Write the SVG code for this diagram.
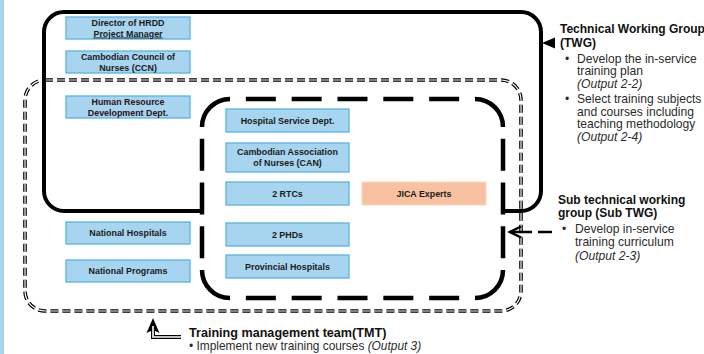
<svg xmlns="http://www.w3.org/2000/svg" width="704" height="354" viewBox="0 0 704 354">
<defs>
<style>
.box{fill:#A7D4EE;stroke:#5AB3E4;stroke-width:1.3}
.jica{fill:#F8C2A0;stroke:#FBD3BB;stroke-width:1}
.bt{font-family:"Liberation Sans",Arial,sans-serif;font-size:8.9px;font-weight:bold;fill:#1a1a1a;text-anchor:middle}
.title{font-family:"Liberation Sans",Arial,sans-serif;font-size:12px;font-weight:bold;fill:#111}
.body{font-family:"Liberation Sans",Arial,sans-serif;font-size:12.1px;fill:#2b2b2b}
.it{font-style:italic}
.solid{fill:none;stroke:#000;stroke-width:4}
.ld{fill:none;stroke:#000;stroke-width:4.5}
.dbl-o{fill:none;stroke:#000;stroke-width:3.6;stroke-dasharray:8 4}
.dbl-i{fill:none;stroke:#fff;stroke-width:1.2;stroke-dasharray:8 4}
.dl-o{fill:none;stroke:#000;stroke-width:4;stroke-linejoin:miter}
.dl-i{fill:none;stroke:#fff;stroke-width:1.6;stroke-linejoin:miter}
</style>
</defs>
<rect x="0" y="0" width="704" height="354" fill="#fff"/>
<rect x="0" y="0" width="4" height="354" fill="#A9D2EC"/>

<g id="groups">
  <g id="tmt-boundary">
    <rect class="dbl-o" x="25" y="80" width="496" height="231" rx="20"/>
    <rect class="dbl-i" x="25" y="80" width="496" height="231" rx="20"/>
  </g>
  <g id="twg-boundary">
    <path class="solid" d="M202,211 H64 A20,20 0 0 1 44,191 V32 A20,20 0 0 1 64,12 H521 A20,20 0 0 1 541,32 V191 A20,20 0 0 1 521,211 H503"/>
  </g>
  <g id="subtwg-boundary">
    <path class="ld" d="M202,127 A28,28 0 0 1 230,99 M475,99 A28,28 0 0 1 503,127 M503,270 A28,28 0 0 1 475,298 M230,298 A28,28 0 0 1 202,270"/>
    <path class="ld" d="M230,99 H475 M475,298 H230" stroke-dasharray="30 15.83" stroke-dashoffset="30"/>
    <path class="ld" d="M503,127 V270 M202,270 V127" stroke-dasharray="32 11.75" stroke-dashoffset="32"/>
  </g>
</g>

<g id="n1"><rect class="box" x="66" y="17" width="124" height="22"/><text class="bt" x="128" y="26">Director of HRDD</text><text class="bt" x="128" y="36.5" text-decoration="underline">Project Manager</text></g>
<g id="n2"><rect class="box" x="66" y="51" width="124" height="22"/><text class="bt" x="128" y="60">Cambodian Council of</text><text class="bt" x="128" y="70.5">Nurses (CCN)</text></g>
<g id="n3"><rect class="box" x="66" y="96" width="124" height="22"/><text class="bt" x="128" y="105" style="fill:#2e1016">Human Resource</text><text class="bt" x="128" y="115.5" style="fill:#2e1016">Development Dept.</text></g>
<g id="n4"><rect class="box" x="66" y="222" width="124" height="22"/><text class="bt" x="128" y="236.2">National Hospitals</text></g>
<g id="n5"><rect class="box" x="66" y="260" width="124" height="22"/><text class="bt" x="128" y="274.2">National Programs</text></g>
<g id="n6"><rect class="box" x="226" y="109" width="123" height="23"/><text class="bt" x="287.5" y="123.7">Hospital Service Dept.</text></g>
<g id="n7"><rect class="box" x="226" y="143" width="123" height="29"/><text class="bt" x="287.5" y="155">Cambodian Association</text><text class="bt" x="287.5" y="166">of Nurses (CAN)</text></g>
<g id="n8"><rect class="box" x="226" y="182" width="123" height="23"/><text class="bt" x="287.5" y="196.7">2 RTCs</text></g>
<g id="n9"><rect class="box" x="226" y="223" width="123" height="23"/><text class="bt" x="287.5" y="237.7">2 PHDs</text></g>
<g id="n10"><rect class="box" x="226" y="255" width="123" height="23"/><text class="bt" x="287.5" y="269.7">Provincial Hospitals</text></g>
<g id="jica"><rect class="jica" x="362" y="182" width="124" height="23"/><text class="bt" x="424" y="196.7">JICA Experts</text></g>

<g id="connectors">
  <polygon points="542,43 555,37.5 555,48.5" fill="#000"/>
  <path d="M510,232 H532 M538,232 H552" stroke="#000" stroke-width="2.5" fill="none"/>
  <path d="M521,226.5 L510,232 L521,237.5" stroke="#000" stroke-width="2.5" fill="none"/>
  <path d="M153,318 L159.5,333 L153,330 L146.5,333 Z" fill="#000"/>
  <path class="dl-o" d="M153,326 V337 H181"/>
  <path class="dl-i" d="M153,326 V337 H181"/>
</g>

<g id="twg-label">
  <text class="title" x="560" y="33">Technical Working Group</text>
  <text class="title" x="560" y="46.5">(TWG)</text>
  <text class="body" x="565" y="62.5">•</text>
  <text class="body" x="577" y="62.5">Develop the in-service</text>
  <text class="body" x="577" y="75">training plan</text>
  <text class="body it" x="577" y="87.5">(Output 2-2)</text>
  <text class="body" x="565" y="103">•</text>
  <text class="body" x="577" y="103">Select training subjects</text>
  <text class="body" x="577" y="115.5">and courses including</text>
  <text class="body" x="577" y="128">teaching methodology</text>
  <text class="body it" x="577" y="140.5">(Output 2-4)</text>
</g>
<g id="subtwg-label">
  <text class="title" x="558" y="204">Sub technical working</text>
  <text class="title" x="558" y="217">group (Sub TWG)</text>
  <text class="body" x="562" y="233">•</text>
  <text class="body" x="575" y="233">Develop in-service</text>
  <text class="body" x="575" y="246">training curriculum</text>
  <text class="body it" x="575" y="260">(Output 2-3)</text>
</g>
<g id="tmt-label">
  <text class="title" x="189" y="337" style="font-size:12.6px">Training management team(TMT)</text>
  <text class="body" x="189" y="350" style="font-size:11.9px">• Implement new training courses <tspan class="it">(Output 3)</tspan></text>
</g>
</svg>
